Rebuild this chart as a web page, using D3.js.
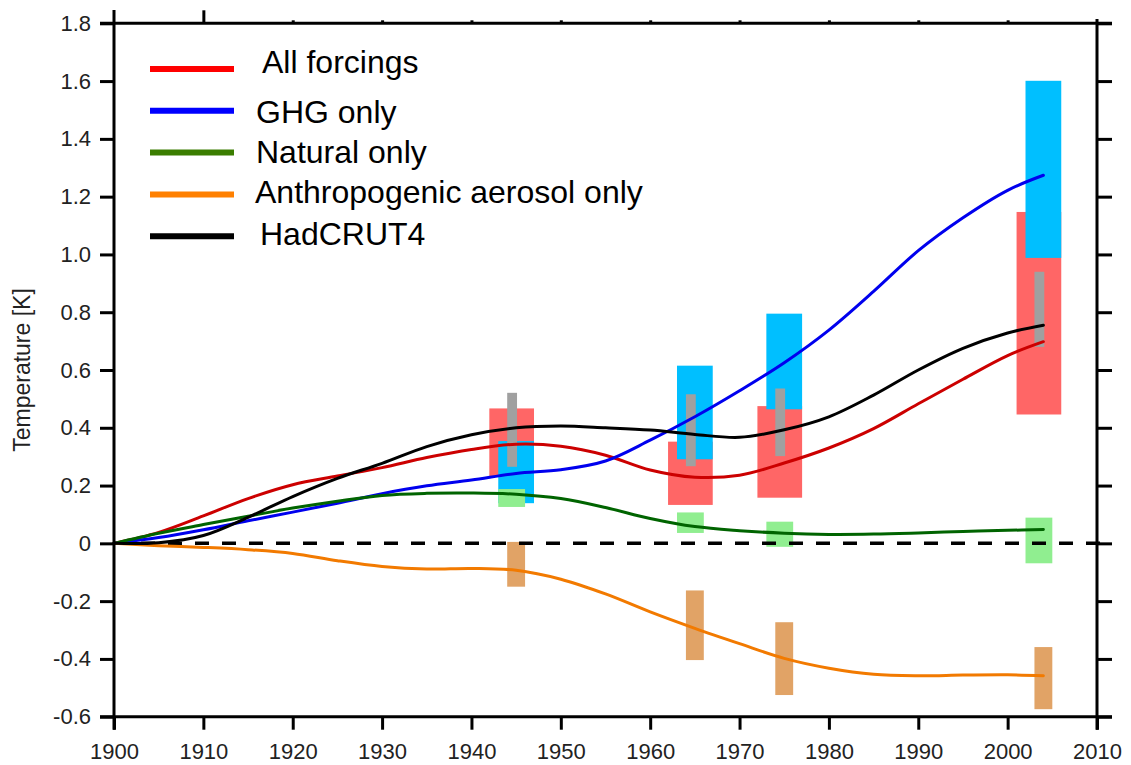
<!DOCTYPE html>
<html>
<head>
<meta charset="utf-8">
<script src="https://cdn.jsdelivr.net/npm/d3@7"></script>
<style>
  body { margin: 0; background: #fff; }
  svg { display: block; font-family: "Liberation Sans", Arial, Helvetica, sans-serif; }
</style>
</head>
<body>
<div id="chart"></div>
<script>
// model years for the smoothed curves
const years = [1900, 1905, 1910, 1915, 1920, 1925, 1930, 1935, 1940, 1945, 1950, 1955, 1960, 1965, 1970, 1975, 1980, 1985, 1990, 1995, 2000, 2004];

const allForcings = [0, 0.038, 0.095, 0.155, 0.203, 0.233, 0.262, 0.297, 0.325, 0.343, 0.336, 0.305, 0.254, 0.229, 0.236, 0.278, 0.330, 0.397, 0.483, 0.568, 0.650, 0.698];
const ghgOnly = [0, 0.020, 0.047, 0.078, 0.108, 0.139, 0.172, 0.199, 0.219, 0.242, 0.255, 0.285, 0.357, 0.438, 0.528, 0.625, 0.738, 0.872, 1.013, 1.127, 1.222, 1.274];
const naturalOnly = [0, 0.035, 0.065, 0.094, 0.122, 0.146, 0.166, 0.173, 0.174, 0.170, 0.155, 0.124, 0.086, 0.058, 0.044, 0.035, 0.031, 0.032, 0.036, 0.041, 0.045, 0.048];
const aerosolOnly = [0, -0.008, -0.014, -0.022, -0.035, -0.060, -0.080, -0.089, -0.087, -0.093, -0.124, -0.175, -0.237, -0.294, -0.347, -0.398, -0.432, -0.453, -0.458, -0.456, -0.455, -0.458];
const hadcrut4 = [0, 0.002, 0.027, 0.090, 0.162, 0.225, 0.277, 0.335, 0.376, 0.400, 0.406, 0.400, 0.392, 0.377, 0.367, 0.393, 0.438, 0.513, 0.600, 0.675, 0.728, 0.755];

// uncertainty boxes: first year of each period, then [low, high] per period
const periodStart = [1942, 1962, 1972, 2001];
const allRange = [[0.233, 0.467], [0.133, 0.352], [0.158, 0.475], [0.446, 1.147]];
const ghgRange = [[0.139, 0.354], [0.291, 0.615], [0.464, 0.795], [0.988, 1.601]];
const natRange = [[0.126, 0.188], [0.036, 0.107], [-0.012, 0.075], [-0.069, 0.089]];
const aerRange = [[-0.150, 0.005], [-0.404, -0.163], [-0.525, -0.273], [-0.574, -0.359]];
const obsRange = [[0.265, 0.521], [0.267, 0.516], [0.302, 0.536], [0.680, 0.940]];

const xTicks = [1900, 1910, 1920, 1930, 1940, 1950, 1960, 1970, 1980, 1990, 2000, 2010];
const yTicks = [-0.6, -0.4, -0.2, 0, 0.2, 0.4, 0.6, 0.8, 1.0, 1.2, 1.4, 1.6, 1.8];
const yTickLabels = ['-0.6', '-0.4', '-0.2', '0', '0.2', '0.4', '0.6', '0.8', '1.0', '1.2', '1.4', '1.6', '1.8'];

const legendNames = ['All forcings', 'GHG only', 'Natural only', 'Anthropogenic aerosol only', 'HadCRUT4'];

const W = 1131, H = 765;
const svg = d3.select('#chart').append('svg').attr('width', W).attr('height', H);

const x = d3.scaleLinear().domain([1900, 2010]).range([114, 1097]);
const y = d3.scaleLinear().domain([-0.6, 1.8]).range([716.7, 23.3]);

// boxes: offsets within a period (years) and colours
const boxes = [
    { ranges: allRange, from: 0, to: 5, fill: '#ff6666' },
    { ranges: ghgRange, from: 1, to: 5, fill: '#00bfff' },
    { ranges: natRange, from: 1, to: 4, fill: '#90ee90' },
    { ranges: obsRange, from: 2, to: 3.1, fill: '#a0a0a0' },
    { ranges: aerRange, from: 2, to: 4, fill: '#e1a366' },
];

boxes.forEach(b => {
    svg.append('g').selectAll('rect')
        .data(b.ranges.map((r, i) => ({ s: periodStart[i], lo: r[0], hi: r[1] })))
        .enter()
        .append('rect')
        .attr('x', d => x(d.s + b.from))
        .attr('width', d => x(d.s + b.to) - x(d.s + b.from))
        .attr('y', d => y(d.hi))
        .attr('height', d => y(d.lo) - y(d.hi))
        .attr('fill', b.fill);
});

// zero line
svg.append('line')
    .attr('x1', x(1900)).attr('x2', x(2010) + 15)
    .attr('y1', y(0)).attr('y2', y(0))
    .attr('stroke', '#000').attr('stroke-width', 3.5)
    .attr('stroke-dasharray', '14,13');

const series = [
    { values: allForcings, color: '#cc0000' },
    { values: ghgOnly, color: '#0000ee' },
    { values: naturalOnly, color: '#006400' },
    { values: aerosolOnly, color: '#f27a00' },
    { values: hadcrut4, color: '#000000' },
];

const line = d3.line()
    .x(d => x(d[0]))
    .y(d => y(d[1]))
    .curve(d3.curveCatmullRom.alpha(0.5));

series.forEach(s => {
    svg.append('path')
        .datum(years.map((yr, i) => [yr, s.values[i]]))
        .attr('d', line)
        .attr('fill', 'none')
        .attr('stroke', s.color)
        .attr('stroke-width', 3)
        .attr('stroke-linecap', 'round');
});

// axes
const tickColor = '#000';
const labelColor = '#222';

const leftAxis = svg.append('g')
    .attr('transform', `translate(${x(1900)},0)`)
    .call(d3.axisLeft(y).tickValues(yTicks).tickSize(14).tickPadding(9)
        .tickFormat((d, i) => yTickLabels[i]));

const rightAxis = svg.append('g')
    .attr('transform', `translate(${x(2010)},0)`)
    .call(d3.axisRight(y).tickValues(yTicks).tickSize(15).tickFormat(''));

const bottomAxis = svg.append('g')
    .attr('transform', `translate(0,${y(-0.6)})`)
    .call(d3.axisBottom(x).tickValues(xTicks).tickSize(13).tickPadding(14)
        .tickFormat(d3.format('d')));

const topAxis = svg.append('g')
    .attr('transform', `translate(0,${y(1.8)})`)
    .call(d3.axisTop(x).tickValues(xTicks.slice(1, -1)).tickSize(3).tickFormat(''));

[leftAxis, rightAxis, bottomAxis, topAxis].forEach(g => {
    g.select('.domain').remove();
    g.selectAll('.tick line').attr('stroke', tickColor).attr('stroke-width', 3);
    g.selectAll('.tick text')
        .attr('fill', labelColor)
        .style('font-size', '22px')
        .style('font-family', '"Liberation Sans", Arial, sans-serif');
});

// long top tick at 1910
topAxis.selectAll('.tick line').filter(d => d === 1910).attr('y2', -13);

// frame
const frame = svg.append('g').attr('stroke', '#000').attr('stroke-width', 3);
frame.append('line').attr('x1', x(1900)).attr('x2', x(1900)).attr('y1', 10).attr('y2', y(-0.6) + 13);
frame.append('line').attr('x1', x(2010)).attr('x2', x(2010)).attr('y1', 19).attr('y2', y(-0.6) + 13);
frame.append('line').attr('x1', 100).attr('x2', x(2010) + 15).attr('y1', y(-0.6)).attr('y2', y(-0.6));
frame.append('line').attr('x1', 100).attr('x2', x(2010) + 15).attr('y1', y(1.8)).attr('y2', y(1.8));

// y label
svg.append('text')
    .attr('transform', `translate(30,370) rotate(-90)`)
    .attr('text-anchor', 'middle')
    .attr('fill', labelColor)
    .style('font-size', '23px')
    .text('Temperature [K]');

// legend
const legendColors = ['#ff0000', '#0000ff', '#3a7d00', '#ff8000', '#000000'];
const legendTextDx = [112, 106, 106, 105, 110];
const legendTextDy = [4, 12, 10, 9, 9];
const legend = svg.append('g').attr('transform', 'translate(150,69)');
legendNames.forEach((name, i) => {
    const ly = i * 41.8;
    legend.append('line')
        .attr('x1', 0).attr('x2', 84)
        .attr('y1', ly).attr('y2', ly)
        .attr('stroke', legendColors[i])
        .attr('stroke-width', 6);
    legend.append('text')
        .attr('x', legendTextDx[i])
        .attr('y', ly + legendTextDy[i])
        .attr('fill', '#000')
        .style('font-size', '32px')
        .text(name);
});
</script>
</body>
</html>
